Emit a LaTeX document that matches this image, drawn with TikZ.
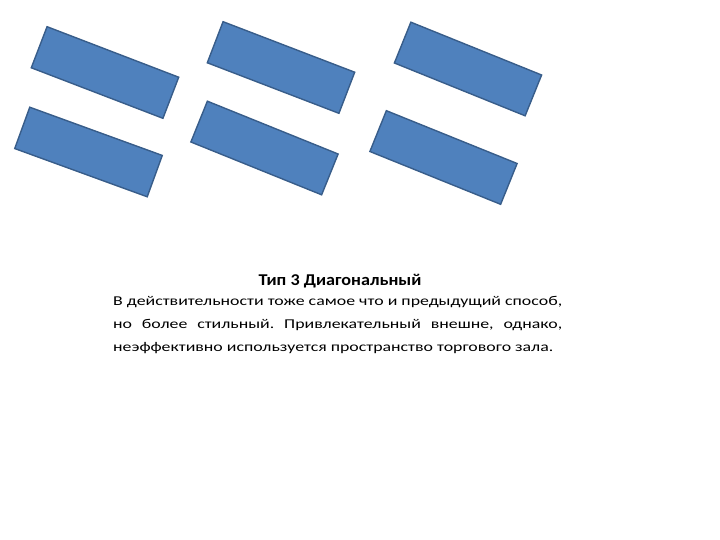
\documentclass[tikz,border=0pt]{standalone}
\usepackage{fontspec}
\setmainfont{Carlito}
\newfontfamily\bodyfont[FakeStretch=1.32]{Carlito}
\newfontfamily\titlefont[FakeStretch=1.1]{Carlito}
\usepackage{tikz}
\frenchspacing
\definecolor{shelffill}{HTML}{4F81BD}
\definecolor{shelfline}{HTML}{385D8A}
\tikzstyle{shelf} = [rectangle, draw=shelfline, fill=shelffill, line width=1.4pt, minimum width=141pt, minimum height=44pt, inner sep=0pt]
\tikzstyle{caption} = [inner sep=0pt, text width=449pt, align=justify, font=\bodyfont\fontsize{13.5}{23}\selectfont]

\begin{document}
\begin{tikzpicture}[x=1pt,y=-1pt]
  \useasboundingbox (0,0) rectangle (720,540);
  \draw (105.0, 72.5)node[shelf, rotate=-21](1){};
  \draw (88.5, 152.0)node[shelf, rotate=-20](2){};
  \draw (281.0, 67.5)node[shelf, rotate=-21](3){};
  \draw (264.5, 148.0)node[shelf, rotate=-22](4){};
  \draw (468.0, 69.0)node[shelf, rotate=-22](5){};
  \draw (443.5, 157.5)node[shelf, rotate=-22](6){};
  \draw (340.0, 285.7)node[anchor=base, inner sep=0pt, font=\titlefont\fontsize{16.5}{18}\selectfont\bfseries](title){Тип 3 Диагональный};
  \draw (113.0, 305.0)node[caption, anchor=base west](text){В действительности тоже самое что и предыдущий способ, но более стильный. Привлекательный внешне, однако, неэффективно используется пространство торгового зала.};
\end{tikzpicture}
\end{document}
